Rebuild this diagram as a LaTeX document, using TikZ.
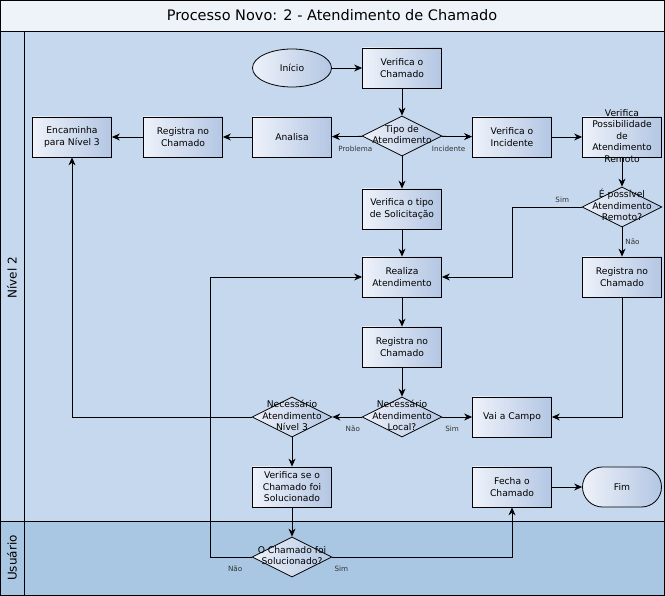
\documentclass[tikz,border=0pt]{standalone}
\usepackage{fontspec}
\setmainfont{DejaVu Sans}
\usetikzlibrary{shapes.geometric,arrows.meta}

\definecolor{laneA}{HTML}{C6D8EE}
\definecolor{laneB}{HTML}{A9C6E3}
\definecolor{titlebg}{HTML}{EEF3FA}
\definecolor{boxL}{HTML}{EEF2FA}
\definecolor{boxR}{HTML}{B3C6E3}

% text that may run over the border of its shape
\newcommand{\dtxt}[1]{\makebox[0pt]{\smash{\raisebox{-2.1pt}{\begin{tabular}{@{}c@{}}#1\end{tabular}}}}}

\begin{document}
\begin{tikzpicture}[x=1pt, y=-1pt,
  lane/.style={draw=black, line width=0.8pt},
  box/.style={draw=black, line width=0.8pt, left color=boxL, right color=boxR,
    minimum width=79pt, minimum height=40pt, align=center, inner sep=1pt,
    font=\fontsize{9.2}{11.5}\selectfont},
  dec/.style={box, diamond, minimum width=80pt, minimum height=40pt, inner sep=0pt},
  term/.style={box, ellipse, minimum height=38pt},
  flow/.style={-{Stealth[length=8pt, width=7pt]}, line width=0.8pt},
  tag/.style={font=\fontsize{7.2}{8}\selectfont, text=black!80, inner sep=1pt}]
\useasboundingbox (0,0) rectangle (665,596);
% lanes
\fill[titlebg] (0,0) rectangle (665,31);
\fill[laneA] (0,31) rectangle (665,521);
\fill[laneB] (0,521) rectangle (665,596);
\draw[lane] (0.4,0.4) rectangle (664.6,595.6);
\draw[lane] (0,31) -- (665,31);
\draw[lane] (24,31) -- (24,596);
\draw[lane] (0,521) -- (665,521);
\node[font=\fontsize{14.5}{16}\selectfont] (title) at (332,15) {Processo Novo: 2 - Atendimento de Chamado};
\node[rotate=90, font=\fontsize{12}{14}\selectfont] (lnivel) at (12,278) {Nível 2};
\node[rotate=90, font=\fontsize{12}{14}\selectfont] (lusuario) at (12,558) {Usuário};

% steps
\node[term] (inicio) at (292,68) {Início};
\node[box] (verchamado) at (402,68) {Verifica o\\Chamado};
\node[dec] (tipo) at (402,136) {\dtxt{Tipo de\\Atendimento}};
\node[box] (analisa) at (292,137) {Analisa};
\node[box] (regesq) at (183,137) {Registra no\\Chamado};
\node[box] (encaminha) at (72,137) {Encaminha\\para Nível 3};
\node[box] (verincidente) at (512,137) {Verifica o\\Incidente};
\node[box] (verposs) at (622,137) {\dtxt{Verifica\\Possibilidade\\de\\Atendimento\\Remoto}};
\node[dec] (remoto) at (622,207) {\dtxt{É possível\\Atendimento\\Remoto?}};
\node[box] (regdir) at (622,277) {Registra no\\Chamado};
\node[box] (versolic) at (402,209) {Verifica o tipo\\de Solicitação};
\node[box] (realiza) at (402,277) {Realiza\\Atendimento};
\node[box] (regmeio) at (402,347) {Registra no\\Chamado};
\node[dec] (local) at (402,417) {\dtxt{Necessário\\Atendimento\\Local?}};
\node[box] (campo) at (512,417) {Vai a Campo};
\node[dec] (nivel3) at (292,417) {\dtxt{Necessário\\Atendimento\\Nível 3}};
\node[box] (versoluc) at (292,487) {Verifica se o\\Chamado foi\\Solucionado};
\node[dec] (solucionado) at (292,557) {\dtxt{O Chamado foi\\Solucionado?}};
\node[box] (fecha) at (512,487) {Fecha o\\Chamado};
\node[box, rounded corners=20pt] (fim) at (622,487) {Fim};

% flow
\draw[flow] (inicio) -- (verchamado);
\draw[flow] (verchamado) -- (tipo);
\draw[flow] (tipo) -- node[tag, below=8pt, pos=0.23] {Problema} (analisa);
\draw[flow] (tipo) -- node[tag, below=8pt, pos=0.23] {Incidente} (verincidente);
\draw[flow] (tipo) -- (versolic);
\draw[flow] (analisa) -- (regesq);
\draw[flow] (regesq) -- (encaminha);
\draw[flow] (verincidente) -- (verposs);
\draw[flow] (verposs) -- (remoto);
\draw[flow] (remoto) -- node[tag, right=2pt, midway] {Não} (regdir);
\draw[flow] (remoto.west) -- node[tag, above=3pt, pos=0.28] {Sim} ++(-69,0) |- (realiza.east);
\draw[flow] (versolic) -- (realiza);
\draw[flow] (realiza) -- (regmeio);
\draw[flow] (regmeio) -- (local);
\draw[flow] (local) -- node[tag, below=8pt, pos=0.3] {Não} (nivel3);
\draw[flow] (local) -- node[tag, below=8pt, pos=0.33] {Sim} (campo);
\draw[flow] (regdir) |- (campo);
\draw[flow] (nivel3) -| (encaminha);
\draw[flow] (nivel3) -- (versoluc);
\draw[flow] (versoluc) -- (solucionado);
\draw[flow] (solucionado.west) -- node[tag, below=8pt, pos=0.4] {Não} ++(-41,0) |- (realiza.west);
\draw[flow] (solucionado.east) -| node[tag, below=8pt, pos=0.025] {Sim} (fecha);
\draw[flow] (fecha) -- (fim);
\end{tikzpicture}
\end{document}
